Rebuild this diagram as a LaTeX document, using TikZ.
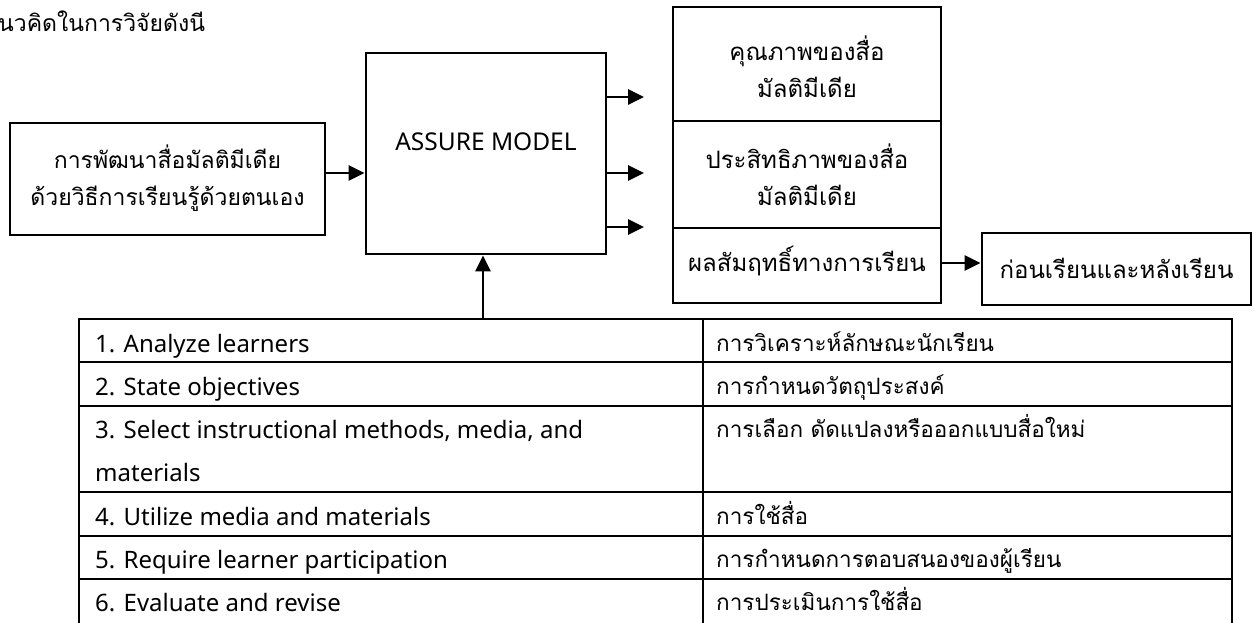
\documentclass[tikz,border=0pt]{standalone}
\usepackage{fontspec}
\setmainfont[Script=Thai]{Loma}
\newfontfamily\latinf{Noto Sans}
\usetikzlibrary{arrows.meta}
\newcommand\fsz{\fontsize{22.5}{37}\selectfont}
\newcommand\fbx{\fontsize{24}{37}\selectfont}
\newcommand\flb{\fontsize{23}{37}\selectfont}
\newcommand\fen{\latinf\fontsize{24}{37}\selectfont}
\begin{document}
\begin{tikzpicture}[x=1pt,y=-1pt,
  box/.style={draw, line width=2.8pt, inner sep=0pt},
  lbl/.style={inner sep=0pt, align=center, font=\fbx},
  cell/.style={inner sep=0pt, anchor=base west, font=\fsz},
  ecell/.style={inner sep=0pt, anchor=base west, font=\fen},
  arr/.style={line width=2.8pt, -{Triangle[length=16pt,width=15pt]}},
  grid/.style={line width=2.8pt, line cap=rect}]
\useasboundingbox (0,0) rectangle (1254,622);
\fill[white] (0,0) rectangle (1254,622);
% title
\node[inner sep=0pt, anchor=west, font=\flb] (title) at (-2,21) {นวคิดในการวิจัยดังนี};
% left box
\node[box, minimum width=315, minimum height=112] (lb) at (167.5,179) {};
\node[lbl, font=\flb] (lbt) at (167.5,178) {การพัฒนาสื่อมัลติมีเดีย\\ด้วยวิธีการเรียนรู้ด้วยตนเอง};
% assure box
\node[box, minimum width=240, minimum height=201] (as) at (486,153.5) {};
\node[lbl, font=\latinf\fontsize{24.5}{28}\selectfont] (ast) at (486,142) {ASSURE MODEL};
% stack
\node[box, minimum width=268, minimum height=114] (s1) at (807,64) {};
\node[box, minimum width=268, minimum height=107] (s2) at (807,174.5) {};
\node[box, minimum width=268, minimum height=75] (s3) at (807,265.5) {};
\node[lbl] (s1t) at (807,67) {คุณภาพของสื่อ\\มัลติมีเดีย};
\node[lbl] (s2t) at (807,175) {ประสิทธิภาพของสื่อ\\มัลติมีเดีย};
\node[lbl] (s3t) at (807,261) {ผลสัมฤทธิ์ทางการเรียน};
% right box
\node[box, minimum width=269, minimum height=72] (rb) at (1116.5,269) {};
\node[lbl] (rbt) at (1116.5,268) {ก่อนเรียนและหลังเรียน};
% free arrow ends
\coordinate (e1) at (644,97);
\coordinate (e2) at (644,173);
\coordinate (e3) at (644,227);
\coordinate (tt) at (483,319);
% arrows
\draw[arr] ([yshift=6pt]lb.east) -- ([yshift=6pt]lb.east -| as.west);
\draw[arr] (e1 -| as.east) -- (e1);
\draw[arr] (e2 -| as.east) -- (e2);
\draw[arr] (e3 -| as.east) -- (e3);
\draw[arr] ([yshift=2.5pt]s3.east) -- ([yshift=2.5pt]s3.east -| rb.west);
\draw[arr] (tt) -- (tt |- as.south);
% table
\draw[grid] (79,630) -- (79,319) -- (1232,319) -- (1232,630);
\draw[grid] (703,319) -- (703,630);
\foreach \yy in {362,406,492,536,579}
  \draw[grid] (79,\yy) -- (1232,\yy);
% table text
\node[ecell] (a1) at (95,352) {1. Analyze learners};
\node[ecell] (a2) at (95,395) {2. State objectives};
\node[ecell] (a3) at (95,438) {3. Select instructional methods, media, and};
\node[ecell] (a3b) at (95,481) {materials};
\node[ecell] (a4) at (95,525) {4. Utilize media and materials};
\node[ecell] (a5) at (95,568) {5. Require learner participation};
\node[ecell] (a6) at (95,611) {6. Evaluate and revise};
\node[cell] (b1) at (716,351) {การวิเคราะห์ลักษณะนักเรียน};
\node[cell] (b2) at (716,394) {การกำหนดวัตถุประสงค์};
\node[cell] (b3) at (716,437) {การเลือก ดัดแปลงหรือออกแบบสื่อใหม่};
\node[cell] (b4) at (716,524) {การใช้สื่อ};
\node[cell] (b5) at (716,567) {การกำหนดการตอบสนองของผู้เรียน};
\node[cell] (b6) at (716,610) {การประเมินการใช้สื่อ};
\end{tikzpicture}
\end{document}
